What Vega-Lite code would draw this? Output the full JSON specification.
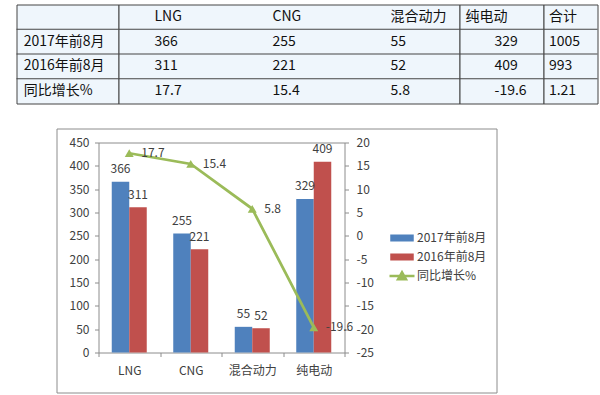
{
  "$schema": "https://vega.github.io/schema/vega-lite/v6.json",
  "padding": {"left": 15.5, "top": 3.5, "right": 2, "bottom": 3},
  "spacing": 23,
  "config": {
    "view": {"stroke": null},
    "font": "Noto Sans CJK SC",
    "axis": {"labelFont": "Noto Sans CJK SC", "labelFontSize": 12, "labelColor": "#404040", "domainColor": "#8c8c8c", "tickColor": "#8c8c8c", "tickSize": 4, "title": null, "labelOverlap": false},
    "legend": {"labelFont": "Noto Sans CJK SC", "labelFontSize": 12, "labelColor": "#404040", "symbolSize": 400}
  },
  "datasets": {
    "bars": [
      {"cat": "LNG", "series": "2017年前8月", "value": 366},
      {"cat": "LNG", "series": "2016年前8月", "value": 311},
      {"cat": "CNG", "series": "2017年前8月", "value": 255},
      {"cat": "CNG", "series": "2016年前8月", "value": 221},
      {"cat": "混合动力", "series": "2017年前8月", "value": 55},
      {"cat": "混合动力", "series": "2016年前8月", "value": 52},
      {"cat": "纯电动", "series": "2017年前8月", "value": 329},
      {"cat": "纯电动", "series": "2016年前8月", "value": 409}
    ],
    "growth": [
      {"cat": "LNG", "pct": 17.7},
      {"cat": "CNG", "pct": 15.4},
      {"cat": "混合动力", "pct": 5.8},
      {"cat": "纯电动", "pct": -19.6}
    ],
    "rowlines": [
      {"row": "2017年前8月"},
      {"row": "2016年前8月"},
      {"row": "同比增长%"}
    ],
    "table": [
      {"row": "header", "col": "LNG", "text": "LNG"},
      {"row": "header", "col": "CNG", "text": "CNG"},
      {"row": "header", "col": "混合动力", "text": "混合动力"},
      {"row": "header", "col": "纯电动", "text": "纯电动"},
      {"row": "header", "col": "合计", "text": "合计"},
      {"row": "2017年前8月", "col": "项目", "text": "2017年前8月"},
      {"row": "2017年前8月", "col": "LNG", "text": "366"},
      {"row": "2017年前8月", "col": "CNG", "text": "255"},
      {"row": "2017年前8月", "col": "混合动力", "text": "55"},
      {"row": "2017年前8月", "col": "纯电动", "text": "329"},
      {"row": "2017年前8月", "col": "合计", "text": "1005"},
      {"row": "2016年前8月", "col": "项目", "text": "2016年前8月"},
      {"row": "2016年前8月", "col": "LNG", "text": "311"},
      {"row": "2016年前8月", "col": "CNG", "text": "221"},
      {"row": "2016年前8月", "col": "混合动力", "text": "52"},
      {"row": "2016年前8月", "col": "纯电动", "text": "409"},
      {"row": "2016年前8月", "col": "合计", "text": "993"},
      {"row": "同比增长%", "col": "项目", "text": "同比增长%"},
      {"row": "同比增长%", "col": "LNG", "text": "17.7"},
      {"row": "同比增长%", "col": "CNG", "text": "15.4"},
      {"row": "同比增长%", "col": "混合动力", "text": "5.8"},
      {"row": "同比增长%", "col": "纯电动", "text": "-19.6"},
      {"row": "同比增长%", "col": "合计", "text": "1.21"}
    ]
  },
  "vconcat": [
    {
      "hconcat": [
        {
          "width": 102, "height": 99,
          "view": {"fill": "#eff6fc", "stroke": "#454545"},
          "layer": [
            {"data": {"name": "rowlines"}, "mark": {"type": "rule", "color": "#454545", "strokeWidth": 1},
             "encoding": {"y": {"field": "row", "type": "nominal", "bandPosition": 0, "scale": {"domain": ["header", "2017年前8月", "2016年前8月", "同比增长%"], "paddingInner": 0, "paddingOuter": 0}, "axis": null}}},
            {"data": {"name": "table"}, "transform": [{"filter": "datum.col === '项目'"}],
             "mark": {"type": "text", "align": "left", "baseline": "middle", "fontSize": 14, "color": "#111111"},
             "encoding": {
               "x": {"field": "col", "type": "nominal", "scale": {"type": "point", "align": 0.07}, "axis": null},
               "y": {"field": "row", "type": "nominal", "scale": {"domain": ["header", "2017年前8月", "2016年前8月", "同比增长%"], "paddingInner": 0, "paddingOuter": 0}, "axis": null},
               "text": {"field": "text"}}}
          ]
        },
        {
          "width": 341, "height": 99,
          "view": {"fill": "#eff6fc", "stroke": "#454545"},
          "layer": [
            {"data": {"name": "rowlines"}, "mark": {"type": "rule", "color": "#454545", "strokeWidth": 1},
             "encoding": {"y": {"field": "row", "type": "nominal", "bandPosition": 0, "scale": {"domain": ["header", "2017年前8月", "2016年前8月", "同比增长%"], "paddingInner": 0, "paddingOuter": 0}, "axis": null}}},
            {"data": {"name": "table"}, "transform": [{"filter": "indexof(['LNG', 'CNG', '混合动力'], datum.col) >= 0"}],
             "mark": {"type": "text", "align": "left", "baseline": "middle", "fontSize": 14, "color": "#111111"},
             "encoding": {
               "x": {"field": "col", "type": "nominal", "scale": {"type": "point", "domain": ["LNG", "CNG", "混合动力"], "padding": 0.445, "align": 0.343}, "axis": null},
               "y": {"field": "row", "type": "nominal", "scale": {"domain": ["header", "2017年前8月", "2016年前8月", "同比增长%"], "paddingInner": 0, "paddingOuter": 0}, "axis": null},
               "text": {"field": "text"}}}
          ]
        },
        {
          "width": 84, "height": 99,
          "view": {"fill": "#eff6fc", "stroke": "#454545"},
          "layer": [
            {"data": {"name": "rowlines"}, "mark": {"type": "rule", "color": "#454545", "strokeWidth": 1},
             "encoding": {"y": {"field": "row", "type": "nominal", "bandPosition": 0, "scale": {"domain": ["header", "2017年前8月", "2016年前8月", "同比增长%"], "paddingInner": 0, "paddingOuter": 0}, "axis": null}}},
            {"data": {"name": "table"}, "transform": [{"filter": "datum.col === '纯电动' && datum.row === 'header'"}],
             "mark": {"type": "text", "align": "left", "baseline": "middle", "fontSize": 14, "color": "#111111"},
             "encoding": {
               "x": {"field": "col", "type": "nominal", "scale": {"type": "point", "align": 0.072}, "axis": null},
               "y": {"field": "row", "type": "nominal", "scale": {"domain": ["header", "2017年前8月", "2016年前8月", "同比增长%"], "paddingInner": 0, "paddingOuter": 0}, "axis": null},
               "text": {"field": "text"}}},
            {"data": {"name": "table"}, "transform": [{"filter": "datum.col === '纯电动' && datum.row !== 'header'"}],
             "mark": {"type": "text", "align": "left", "baseline": "middle", "fontSize": 14, "color": "#111111", "dx": 29},
             "encoding": {
               "x": {"field": "col", "type": "nominal", "scale": {"type": "point", "align": 0.072}, "axis": null},
               "y": {"field": "row", "type": "nominal", "scale": {"domain": ["header", "2017年前8月", "2016年前8月", "同比增长%"], "paddingInner": 0, "paddingOuter": 0}, "axis": null},
               "text": {"field": "text"}}}
          ]
        },
        {
          "width": 54, "height": 99,
          "view": {"fill": "#eff6fc", "stroke": "#454545"},
          "layer": [
            {"data": {"name": "rowlines"}, "mark": {"type": "rule", "color": "#454545", "strokeWidth": 1},
             "encoding": {"y": {"field": "row", "type": "nominal", "bandPosition": 0, "scale": {"domain": ["header", "2017年前8月", "2016年前8月", "同比增长%"], "paddingInner": 0, "paddingOuter": 0}, "axis": null}}},
            {"data": {"name": "table"}, "transform": [{"filter": "datum.col === '合计'"}],
             "mark": {"type": "text", "align": "left", "baseline": "middle", "fontSize": 14, "color": "#111111"},
             "encoding": {
               "x": {"field": "col", "type": "nominal", "scale": {"type": "point", "align": 0.1}, "axis": null},
               "y": {"field": "row", "type": "nominal", "scale": {"domain": ["header", "2017年前8月", "2016年前8月", "同比增长%"], "paddingInner": 0, "paddingOuter": 0}, "axis": null},
               "text": {"field": "text"}}}
          ]
        }
      ],
      "spacing": 0,
      "bounds": "flush"
    },
    {
      "hconcat": [
        {
          "width": 39, "height": 10,
          "view": {"fill": "#ffffff", "stroke": null},
          "data": {"values": []},
          "mark": "rect",
          "encoding": {}
        },
        {
          "width": 440, "height": 264,
          "view": {"fill": "#ffffff", "stroke": "#8c8c8c"},
          "encoding": {
            "x": {"field": "cat", "type": "nominal",
                  "scale": {"domain": ["LNG", "CNG", "混合动力", "纯电动"], "range": [42, 288], "paddingInner": 0, "paddingOuter": 0},
                  "axis": {"orient": "bottom", "offset": -40, "tickBand": "extent", "labelPadding": 8.5, "labelAngle": 0, "labelOverlap": false}}
          },
          "layer": [
            {
              "data": {"name": "bars"},
              "layer": [
                {
                  "mark": {"type": "bar"},
                  "encoding": {
                    "xOffset": {"field": "series", "type": "nominal", "scale": {"domain": ["2017年前8月", "2016年前8月"], "paddingInner": 0, "paddingOuter": 0.757}},
                    "y": {"field": "value", "type": "quantitative",
                          "scale": {"domain": [0, 450], "range": [224, 14], "nice": false},
                          "axis": {"orient": "left", "offset": -42, "values": [0, 50, 100, 150, 200, 250, 300, 350, 400, 450], "tickCount": 20, "labelPadding": 5.5, "grid": false, "labelOverlap": false, "labelFlush": false, "labelBound": false}},
                    "color": {"field": "series", "type": "nominal",
                              "scale": {"domain": ["2017年前8月", "2016年前8月", "同比增长%"], "range": ["#4F81BD", "#C0504D", "#9BBB59"]},
                              "legend": {"title": null, "orient": "none", "legendX": 374, "legendY": 222, "padding": 0,
                                         "symbolSize": 400, "labelOffset": 3.5, "rowPadding": 0,
                                         "encode": {"symbols": {"update": {
                                           "shape": {"signal": "datum.label === '同比增长%' ? 'M-1.25,0H1.25M-0.4,0.33L0,-0.37L0.4,0.33Z' : 'M-1.05,-0.22H1.05V0.22H-1.05Z'"},
                                           "size": {"value": 400},
                                           "fill": {"scale": "color", "field": "value"},
                                           "stroke": {"scale": "color", "field": "value"},
                                           "strokeWidth": {"value": 2.5},
                                           "opacity": {"value": 1},
                                           "fillOpacity": {"value": 1}}}}}}
                  }
                },
                {
                  "mark": {"type": "text", "baseline": "middle", "dy": -12.5, "fontSize": 12, "color": "#404040"},
                  "encoding": {
                    "xOffset": {"field": "series", "type": "nominal", "scale": {"domain": ["2017年前8月", "2016年前8月"], "paddingInner": 0, "paddingOuter": 0.757}},
                    "y": {"field": "value", "type": "quantitative"},
                    "text": {"field": "value", "type": "quantitative"}
                  }
                }
              ]
            },
            {
              "data": {"name": "growth"},
              "encoding": {
                "x": {"field": "cat", "type": "nominal",
                      "axis": {"orient": "top", "offset": -14, "labels": false, "ticks": false, "domainColor": "#8c8c8c"}}
              },
              "layer": [
                {
                  "mark": {"type": "line", "strokeWidth": 2.75},
                  "encoding": {
                    "y": {"field": "pct", "type": "quantitative",
                          "scale": {"domain": [-25, 20], "range": [224, 14], "nice": false, "zero": false},
                          "axis": {"orient": "right", "offset": -152, "values": [-25, -20, -15, -10, -5, 0, 5, 10, 15, 20], "tickCount": 20, "labelPadding": 7.5, "grid": false, "labelOverlap": false, "labelFlush": false, "labelBound": false, "labelExpr": "datum.value + ''"}},
                    "color": {"datum": "同比增长%", "type": "nominal"}
                  }
                },
                {
                  "mark": {"type": "point", "shape": "triangle-up", "filled": true, "size": 80, "opacity": 1},
                  "encoding": {
                    "y": {"field": "pct", "type": "quantitative"},
                    "color": {"datum": "同比增长%", "type": "nominal"}
                  }
                },
                {
                  "mark": {"type": "text", "align": "left", "baseline": "middle", "dx": 12, "fontSize": 12, "color": "#404040"},
                  "encoding": {
                    "y": {"field": "pct", "type": "quantitative"},
                    "text": {"field": "pct", "type": "nominal"}
                  }
                }
              ]
            }
          ],
          "resolve": {"scale": {"y": "independent"}, "axis": {"x": "independent"}}
        }
      ],
      "spacing": 0
    }
  ]
}
